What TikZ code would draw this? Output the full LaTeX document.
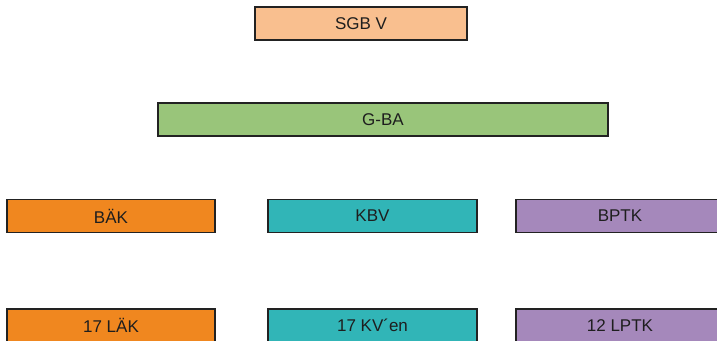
\documentclass[tikz,border=0pt]{standalone}
\usepackage{fontspec}
\setmainfont{Liberation Sans}
\definecolor{sgbfill}{HTML}{F9BF8F}
\definecolor{gbafill}{HTML}{99C57A}
\definecolor{orgfill}{HTML}{F0871F}
\definecolor{tealfill}{HTML}{31B5B7}
\definecolor{purfill}{HTML}{A588BB}
\definecolor{edge}{HTML}{222222}
\definecolor{txt}{HTML}{1E1E1E}
\begin{document}
\begin{tikzpicture}[x=1pt,y=-1pt,
  box/.style={draw=edge,line width=1.3pt,minimum height=33pt,inner sep=0pt,
    font=\fontsize{17}{19}\selectfont,text=txt}]
\fill[white] (0,0) rectangle (717,340);
\useasboundingbox (0,0) rectangle (717,340);
\node[box,fill=sgbfill,minimum width=212pt] (sgb) at (361,23.5) {SGB V};
\node[box,fill=gbafill,minimum width=450pt] (gba) at (383,119.5) {G-BA};
\node[box,fill=orgfill,minimum width=208pt] (baek) at (111,216) {BÄK};
\node[box,fill=tealfill,minimum width=209pt] (kbv) at (372.5,216) {KBV};
\node[box,fill=purfill,minimum width=208pt] (bptk) at (620,216) {BPTK};
\node[box,fill=orgfill,minimum width=208pt] (laek) at (111,325.5) {17 LÄK};
\node[box,fill=tealfill,minimum width=209pt] (kven) at (372.5,325.5) {17 KV´en};
\node[box,fill=purfill,minimum width=208pt] (lptk) at (620,325.5) {12 LPTK};
\end{tikzpicture}
\end{document}
